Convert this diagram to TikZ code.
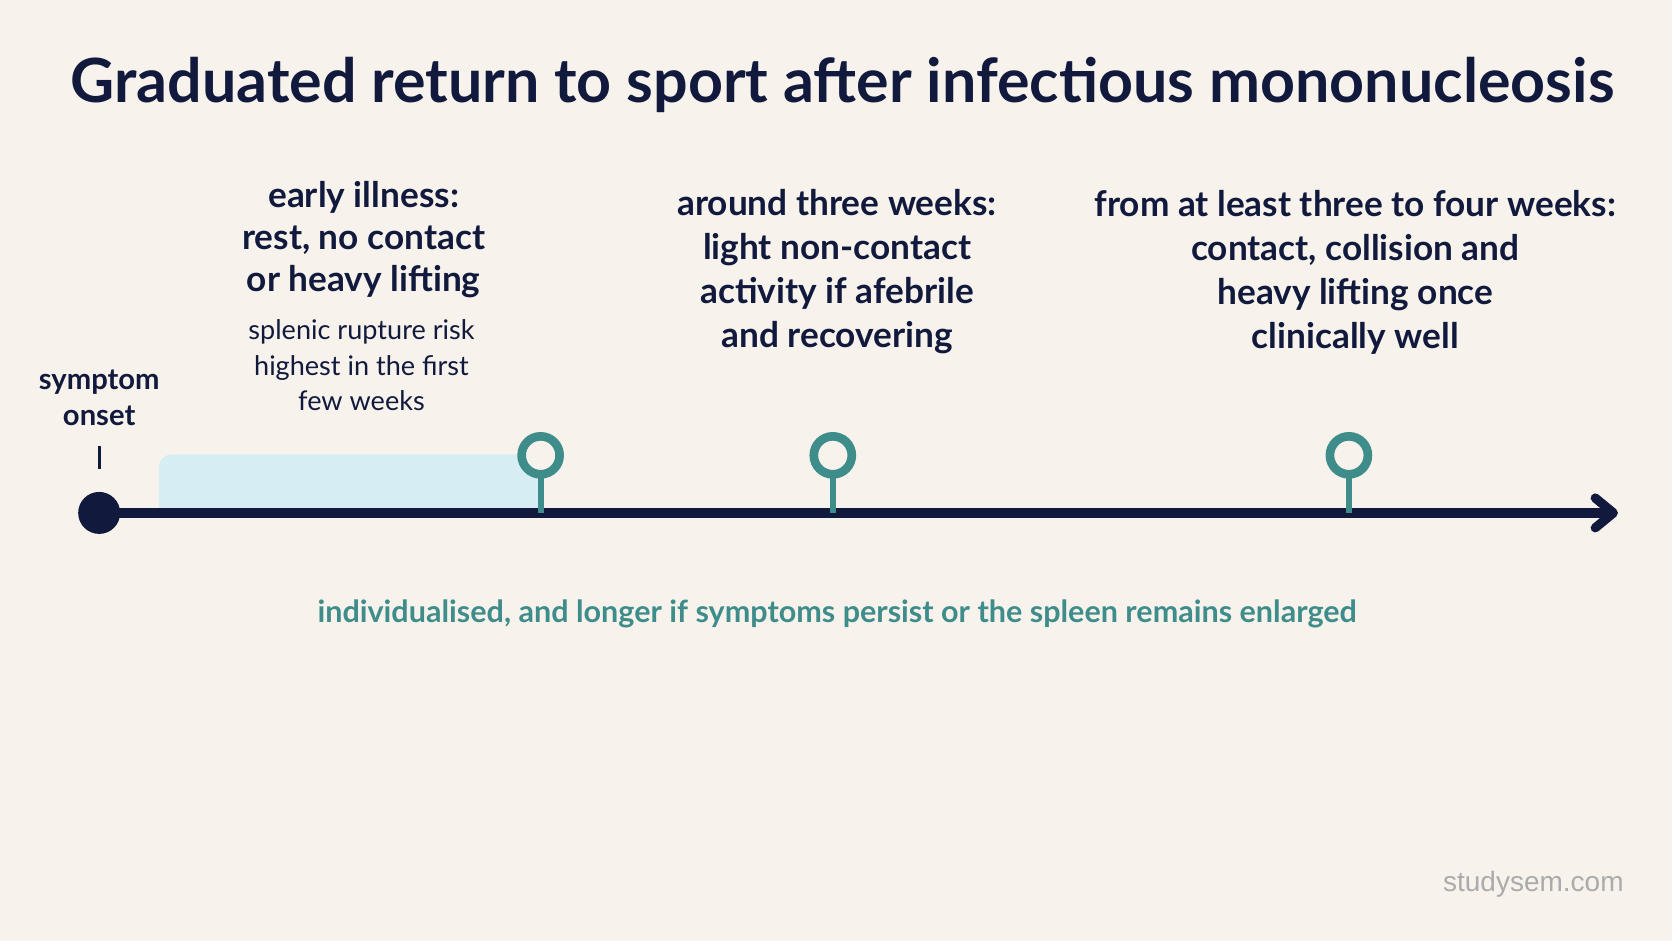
\documentclass[tikz,border=0pt]{standalone}
\usepackage{fontspec}
\setmainfont{Lato}
\newfontfamily\wmfont{Liberation Sans}
\definecolor{bg}{HTML}{F7F3EC}
\definecolor{navy}{HTML}{111A3C}
\definecolor{teal}{HTML}{3F8D8B}
\definecolor{lblue}{HTML}{D5EDF3}
\definecolor{wmgray}{HTML}{ABABAB}
\tikzset{
  title/.style={font=\fontsize{45.7}{52}\selectfont\bfseries, text=navy},
  phase/.style={font=\fontsize{26.4}{33}\selectfont\bfseries, text=navy, align=center},
  phaseA/.style={font=\fontsize{26.4}{31.5}\selectfont\bfseries, text=navy, align=center},
  note/.style={font=\fontsize{20.3}{26.4}\selectfont, text=navy, align=center},
  onsetlbl/.style={font=\fontsize{21.9}{26.4}\selectfont\bfseries, text=navy, align=center},
  ring/.style={circle, draw=teal, fill=bg, line width=6.5pt, minimum size=28.5pt, inner sep=0pt},
  stem/.style={draw=teal, line width=4.6pt},
  axisline/.style={draw=navy, line width=6.9pt},
  caption/.style={font=\fontsize{22.9}{28}\selectfont\bfseries, text=teal},
  wm/.style={font=\wmfont\fontsize{21}{25}\selectfont, text=wmgray}
}
\begin{document}
\begin{tikzpicture}[x=0.7997pt,y=-0.7997pt]
\useasboundingbox (0,0) rectangle (1568,882.5);
\fill[bg] (0,0) rectangle (1568,882.5);
% title
\node[title] (title) at (790,80) {Graduated return to sport after infectious mononucleosis};
% shaded early phase band
\fill[lblue] (149,479) [rounded corners=10pt] -- (149,426) [sharp corners] -- (507,426) -- (507,479) -- cycle;
% axis
\coordinate (start) at (93,481);
\coordinate (end) at (1513,481);
\draw[axisline] (start) -- ([xshift=-4pt]end);
\draw[axisline, line cap=round, line join=round] ([shift={(-17,-14)}]end) -- (end) -- ([shift={(-17,14)}]end);
\node[circle, fill=navy, minimum size=31.5pt, inner sep=0pt] (onset) at (start) {};
% onset label
\node[onsetlbl] (onsetlbl) at (93,373) {symptom\\onset};
\coordinate (tickA) at (93,418);
\coordinate (tickB) at (93,440);
\draw[navy, line width=2pt] (tickA) -- (tickB);
% markers
\foreach \n/\x in {m1/507, m2/781, m3/1265}{
  \draw[stem] (\x,445) -- (\x,481);
  \node[ring] (\n) at (\x,427) {};
}
% phase labels
\node[phaseA] (p1) at (341,225) {early illness:\\rest, no contact\\or heavy lifting};
\node[note] (n1) at (339,342.5) {splenic rupture risk\\highest in the first\\few weeks};
\node[phase] (p2) at (785,255) {around three weeks:\\light non-contact\\activity if afebrile\\and recovering};
\node[phase] (p3) at (1271,255) {from at least three to four weeks:\\contact, collision and\\heavy lifting once\\clinically well};
% caption
\node[caption] (cap) at (785,576) {individualised, and longer if symptoms persist or the spleen remains enlarged};
% watermark
\node[wm] (wm) at (1438,829) {studysem.com};
\end{tikzpicture}
\end{document}
